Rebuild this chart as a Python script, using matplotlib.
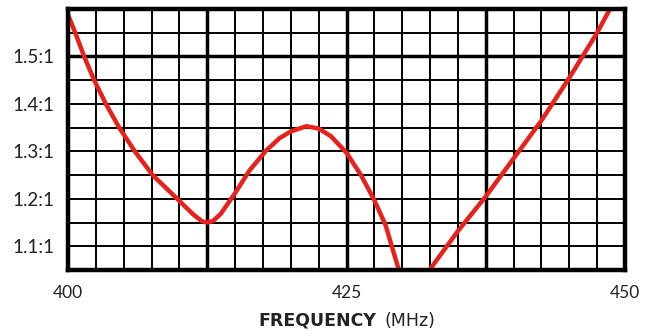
import matplotlib
matplotlib.use("Agg")
import matplotlib.pyplot as plt
from matplotlib.offsetbox import TextArea, HPacker, AnchoredOffsetbox

# ---- data ----
freq_mhz = [400.0, 400.7, 401.45, 402.35, 403.4, 404.6, 406.0, 407.6, 409.8, 411.2,
            412.0, 412.5, 413.0, 413.7, 415.0, 416.3, 417.8, 419.0, 420.0, 421.4,
            422.5, 423.6, 425.0, 426.3, 427.5, 428.5, 429.7, 431.0, 432.45, 435.0,
            437.5, 440.0, 442.5, 445.0, 447.5, 448.65, 450.0]
vswr = [1.588, 1.547, 1.50, 1.45, 1.40, 1.35, 1.30, 1.25, 1.20, 1.168,
        1.153, 1.150, 1.153, 1.168, 1.212, 1.260, 1.302, 1.328, 1.342, 1.353,
        1.348, 1.332, 1.297, 1.250, 1.197, 1.145, 1.05, 1.00, 1.05, 1.132,
        1.205, 1.285, 1.365, 1.455, 1.55, 1.60, 1.645]

x_ticks = [400, 425, 450]
x_tick_labels = ["400", "425", "450"]
y_ticks = [1.1, 1.2, 1.3, 1.4, 1.5]
y_tick_labels = ["1.1:1", "1.2:1", "1.3:1", "1.4:1", "1.5:1"]
x_minor = [400 + 2.5 * i for i in range(21)]
y_minor = [1.05 + 0.05 * i for i in range(12)]
x_heavy = [412.5, 425, 437.5]
y_heavy = [1.5]
x_range = (400, 450)
y_range = (1.05, 1.60)

FONT = ["Lato", "DejaVu Sans"]
plt.rcParams["font.family"] = FONT

fig = plt.figure(figsize=(6.55, 3.32), dpi=100)
fig.patch.set_facecolor("white")
ax = fig.add_axes([68 / 655, 62 / 332, 557 / 655, 261 / 332])

ax.set_xlim(*x_range)
ax.set_ylim(*y_range)

# grid
for xv in x_minor:
    ax.axvline(xv, color="black", lw=1.4, zorder=1)
for yv in y_minor:
    ax.axhline(yv, color="black", lw=1.4, zorder=1)
for xv in x_heavy:
    ax.axvline(xv, color="black", lw=2.5, zorder=1)
for yv in y_heavy:
    ax.axhline(yv, color="black", lw=2.5, zorder=1)

ax.plot(freq_mhz, vswr, color="#e8221b", lw=3.2, solid_capstyle="round",
        solid_joinstyle="round", zorder=3)

for s in ax.spines.values():
    s.set_linewidth(3.2)
    s.set_color("black")
    s.set_zorder(4)

ax.set_xticks(x_ticks)
ax.set_xticklabels(x_tick_labels)
ax.set_yticks(y_ticks)
ax.set_yticklabels(y_tick_labels)
ax.tick_params(axis="both", length=0, colors="#222222")
ax.tick_params(axis="x", pad=11, labelsize=12.5)
ax.tick_params(axis="y", pad=10, labelsize=13.5)

LABEL_FONT = ["DejaVu Sans"]
t1 = TextArea("FREQUENCY", textprops=dict(fontsize=12.5, fontweight="bold",
                                           color="#222222", family=LABEL_FONT))
t2 = TextArea("(MHz)", textprops=dict(fontsize=12.5, color="#222222",
                                      family=LABEL_FONT))
box = HPacker(children=[t1, t2], align="baseline", pad=0, sep=6)
anch = AnchoredOffsetbox(loc="center", child=box, pad=0, frameon=False,
                         bbox_to_anchor=(346.5 / 655, 11 / 332),
                         bbox_transform=fig.transFigure, borderpad=0)
fig.add_artist(anch)

fig.savefig("out.png", dpi=100, facecolor="white")
